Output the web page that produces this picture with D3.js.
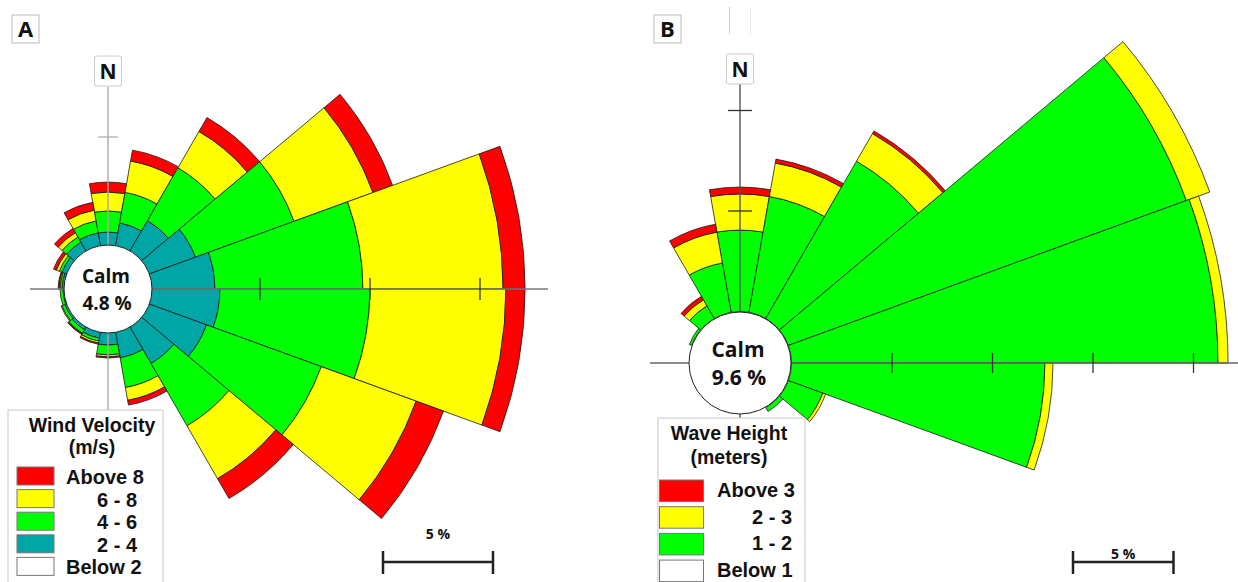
<!DOCTYPE html>
<html><head><meta charset="utf-8">
<script src="https://cdnjs.cloudflare.com/ajax/libs/d3/7.8.5/d3.min.js"></script>
<style>
body{margin:0;background:#fff;}
svg{display:block;}
text{font-family:"Open Sans","Noto Sans",sans-serif;font-weight:700;fill:#111;}
text.leg{font-family:"Liberation Sans","Arial",sans-serif;}
</style></head><body>
<svg id="chart" width="1238" height="582"></svg>
<script>
// ---------- DATA ----------
const directions = [0,20,40,60,80,100,120,140,160,180,200,220,240,260,280,300,320,340]; // degrees, clockwise from N

// Panel A: wind velocity (% frequency per class)
const windCalm = 4.8;
const wind2to4   = [0.68,1.14,1.68,2.32,2.95,3.18,2.86,2.00,1.27,0.64,0.36,0.23,0.18,0.14,0.18,0.32,0.55,0.68];
const wind4to6   = [0.96,1.41,2.77,4.77,6.73,6.82,5.55,3.27,1.37,0.45,0.14,0.18,0.14,0.13,0.09,0.13,0.27,0.55];
const wind6to8   = [0.86,1.45,1.91,3.82,6.37,6.18,4.59,2.78,0.59,0.09,0.09,0.04,0.04,0.00,0.05,0.14,0.23,0.50];
const windAbove8 = [0.45,0.50,0.73,0.95,1.00,0.87,1.32,1.04,0.22,0.05,0.05,0.03,0.00,0.00,0.04,0.14,0.22,0.36];
const windLegendTitle = ["Wind Velocity","(m/s)"];
const windLegendLabels = ["Above 8","6 - 8","4 - 6","2 - 4","Below 2"];

// Panel B: wave height (% frequency per class)
const waveCalm = 9.6;
const wave1to2   = [4.05,5.85,9.03,21.07,21.22,12.61,1.82,0.22,0,0,0,0,0,0,0,0.12,0.72,2.49];
const wave2to3   = [1.80,1.69,1.59,1.24,0.50,0.40,0.15,0,0,0,0,0,0,0,0,0,0.35,1.56];
const waveAbove3 = [0.34,0.20,0.15,0,0,0,0,0,0,0,0,0,0,0,0,0,0.20,0.40];
const waveLegendTitle = ["Wave Height","(meters)"];
const waveLegendLabels = ["Above 3","2 - 3","1 - 2","Below 1"];

const scaleBarPct = 5;

// ---------- STYLE ----------
const RED="#ff0000", YEL="#ffff00", GRN="#00ff00", TEAL="#00a5a5", WHITE="#ffffff";

const svg = d3.select("#chart");

function drawRose(cfg){
  const g = svg.append("g").attr("transform",`translate(${cfg.cx},${cfg.cy})`);
  const r = d3.scaleLinear().domain([0,1]).range([cfg.r0, cfg.r0+cfg.k]);
  const half = 10*Math.PI/180;
  const arc = d3.arc();
  directions.forEach((dir,i)=>{
    let cum = 0;
    cfg.series.forEach(s=>{
      const v = s.values[i];
      if(v<=0) return;
      const a = dir*Math.PI/180;
      g.append("path")
        .attr("d", arc({innerRadius:r(cum), outerRadius:r(cum+v), startAngle:a-half, endAngle:a+half}))
        .attr("fill", s.color).attr("stroke","#1a1a1a").attr("stroke-width",0.8);
      cum += v;
    });
  });
  const ax = g.append("g");
  ax.append("line").attr("x1",cfg.axW).attr("x2",cfg.axE).attr("y1",0).attr("y2",0)
    .attr("stroke",cfg.hAxisColor).attr("stroke-width",1.5);
  ax.append("line").attr("x1",0).attr("x2",0).attr("y1",cfg.axN).attr("y2",cfg.axS)
    .attr("stroke",cfg.vAxisColor).attr("stroke-width",1.4);
  const step = scaleBarPct;
  d3.range(step, r.invert(cfg.axE), step).forEach(t=>{
    ax.append("line").attr("x1",r(t)).attr("x2",r(t)).attr("y1",-cfg.tickE).attr("y2",cfg.tickE)
      .attr("stroke",cfg.eTickColor).attr("stroke-width",1.3);
  });
  d3.range(step, r.invert(-cfg.axN), step).forEach(t=>{
    ax.append("line").attr("x1",-cfg.tickN).attr("x2",cfg.tickN).attr("y1",-r(t)).attr("y2",-r(t))
      .attr("stroke",cfg.nTickColor).attr("stroke-width",1.3);
  });
  g.append("circle").attr("r",cfg.calmR).attr("fill","#fff").attr("stroke","#222").attr("stroke-width",1);
  g.append("text").attr("x",-2).attr("y",cfg.calmY1).attr("text-anchor","middle")
    .style("font-size",cfg.calmFont+"px").text("Calm");
  g.append("text").attr("x",-1).attr("y",cfg.calmY2).attr("text-anchor","middle")
    .style("font-size",cfg.calmFont+"px").text(cfg.calm.toFixed(1)+" %");
  const nb = g.append("g").attr("transform",`translate(0,${cfg.nY})`);
  nb.append("rect").attr("x",-13.5).attr("y",-15).attr("width",27).attr("height",30).attr("rx",2)
    .attr("fill","#fff").attr("stroke","#ccc").attr("stroke-width",1);
  nb.append("text").attr("x",0).attr("y",8).attr("text-anchor","middle").style("font-size","21px").text("N");
  const sb = svg.append("g").attr("transform",`translate(${cfg.sbX},${cfg.sbY})`);
  const len = r(scaleBarPct)-r(0);
  sb.append("line").attr("x1",0).attr("x2",len).attr("y1",0).attr("y2",0).attr("stroke","#222").attr("stroke-width",2.5);
  sb.append("line").attr("x1",0).attr("x2",0).attr("y1",-11).attr("y2",12).attr("stroke","#222").attr("stroke-width",2.5);
  sb.append("line").attr("x1",len).attr("x2",len).attr("y1",-11).attr("y2",12).attr("stroke","#222").attr("stroke-width",2.5);
  sb.append("text").attr("x",len/2).attr("y",cfg.sbTextDy).attr("text-anchor","middle").style("font-size","14px")
    .text(scaleBarPct+" %");
}

function drawLegend(cfg){
  const g = svg.append("g").attr("transform",`translate(${cfg.x},${cfg.y})`);
  g.append("rect").attr("x",0).attr("y",0).attr("width",cfg.w).attr("height",200)
    .attr("fill","#fff").attr("stroke","#c8c8c8").attr("stroke-width",1);
  cfg.title.forEach((t,i)=>{
    g.append("text").attr("class","leg").attr("x",cfg.titleX).attr("y",cfg.titleY[i]).attr("text-anchor","middle")
      .style("font-size",cfg.titleFont+"px").text(t);
  });
  cfg.labels.forEach((lab,i)=>{
    const y = cfg.sw0 + i*cfg.swStep;
    g.append("rect").attr("x",cfg.swX).attr("y",y).attr("width",cfg.swW).attr("height",cfg.swH)
      .attr("fill",cfg.colors[i]).attr("stroke","#777").attr("stroke-width",1);
    const outer = (i===0 || i===cfg.labels.length-1);
    g.append("text").attr("class","leg").attr("x", outer?cfg.labX:cfg.labX2).attr("y",y+cfg.labDy)
      .style("font-size",cfg.labFont+"px").text(lab);
  });
}

function panelLabel(x,y,t){
  const g = svg.append("g").attr("transform",`translate(${x},${y})`);
  g.append("rect").attr("x",0).attr("y",0).attr("width",27).attr("height",28)
    .attr("fill","#fff").attr("stroke","#bbb").attr("stroke-width",1);
  g.append("text").attr("x",13.5).attr("y",22).attr("text-anchor","middle").style("font-size","22px").text(t);
}

// Panel A
drawRose({
  cx:108, cy:289, r0:42, k:22, calm:windCalm, calmR:44, calmFont:19, calmY1:-6, calmY2:21,
  axW:-78, axE:440, axN:-202, axS:121, hAxisColor:"#7a7a7a", vAxisColor:"#aaaaaa",
  tickE:11, tickN:10, eTickColor:"#333", nTickColor:"#b0b0b0", nY:-218,
  sbX:383, sbY:562, sbTextDy:-23,
  series:[
    {values:wind2to4, color:TEAL},
    {values:wind4to6, color:GRN},
    {values:wind6to8, color:YEL},
    {values:windAbove8, color:RED}
  ]
});
drawLegend({x:8, y:410, w:155, title:windLegendTitle, titleX:84, titleY:[22,44], titleFont:19.5,
  labels:windLegendLabels, colors:[RED,YEL,GRN,TEAL,WHITE], swX:9, swW:37, swH:18, sw0:57, swStep:22.6,
  labX:58, labX2:89, labFont:20, labDy:17});
panelLabel(12,15,"A");

// Panel B
drawRose({
  cx:740, cy:363, r0:51.5, k:20.1, calm:waveCalm, calmR:51, calmFont:21, calmY1:-6, calmY2:22,
  axW:-90, axE:498, axN:-279, axS:55, hAxisColor:"#666", vAxisColor:"#555",
  tickE:10, tickN:12, eTickColor:"#333", nTickColor:"#333", nY:-294,
  sbX:1073, sbY:562, sbTextDy:-3,
  series:[
    {values:wave1to2, color:GRN},
    {values:wave2to3, color:YEL},
    {values:waveAbove3, color:RED}
  ]
});
drawLegend({x:658, y:418, w:147, title:waveLegendTitle, titleX:71, titleY:[22,46], titleFont:19.5,
  labels:waveLegendLabels, colors:[RED,YEL,GRN,WHITE], swX:1.5, swW:44, swH:21.5, sw0:62, swStep:26.7,
  labX:59, labX2:94, labFont:20, labDy:17});
panelLabel(654,15,"B");
// faint artifact lines at top of panel B
svg.append("line").attr("x1",729.5).attr("x2",729.5).attr("y1",7).attr("y2",34).attr("stroke","#d0d0d0").attr("stroke-width",1);
svg.append("line").attr("x1",750.5).attr("x2",750.5).attr("y1",7).attr("y2",34).attr("stroke","#ececec").attr("stroke-width",1);
</script>
</body></html>
